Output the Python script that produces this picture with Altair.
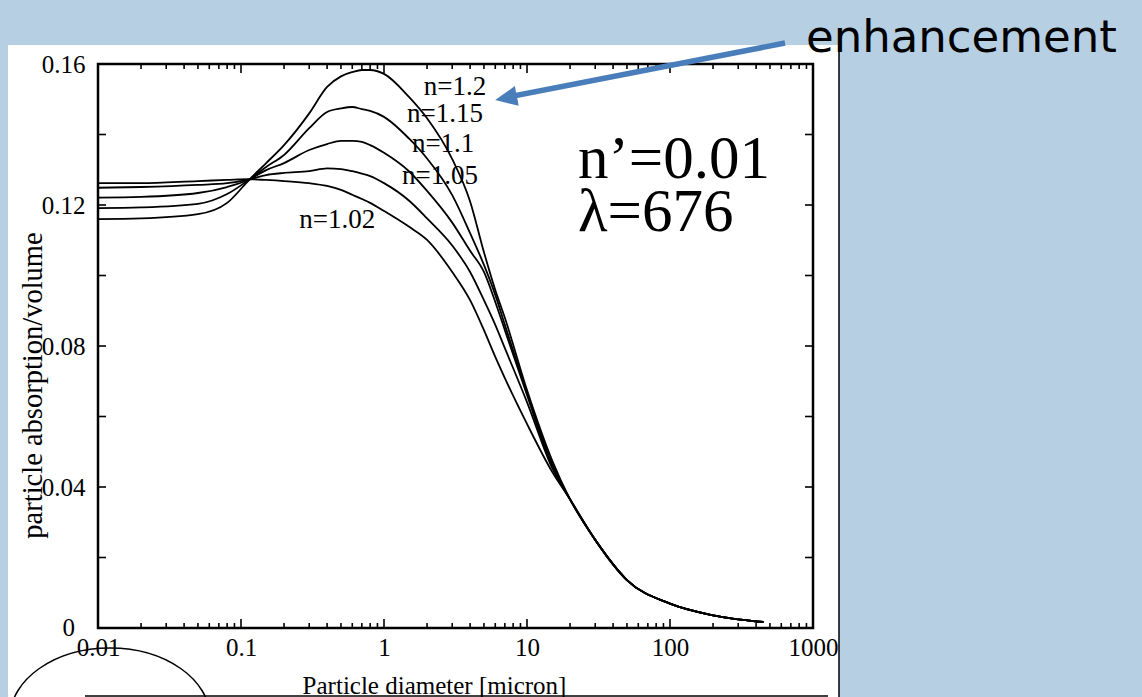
import altair as alt
import pandas as pd

SERIF = "Liberation Serif"

# particle diameter grid [micron]
diam = [0.01, 0.02, 0.05, 0.08, 0.115, 0.15, 0.2, 0.3, 0.4, 0.5, 0.6, 0.7, 0.8, 1, 1.5, 2,
        3, 4, 5, 6, 7, 10, 15, 20, 30, 50, 100, 200, 450]
tail = [0.0365, 0.0250, 0.0136, 0.0069, 0.0036, 0.0017]

n102 = [0.1262, 0.1262, 0.1268, 0.1271, 0.1273, 0.1271, 0.1268, 0.1262, 0.1254, 0.1243, 0.1229,
        0.1217, 0.1206, 0.1183, 0.1138, 0.1101, 0.1010, 0.0930, 0.0845, 0.0769, 0.0709, 0.0579,
        0.0443] + tail
n105 = [0.1249, 0.1251, 0.1257, 0.1262, 0.1273, 0.1285, 0.1291, 0.1296, 0.1304, 0.1302, 0.1296,
        0.1289, 0.1282, 0.1262, 0.1212, 0.1162, 0.1085, 0.1010, 0.0930, 0.0860, 0.0794, 0.0641,
        0.0454] + tail
n110 = [0.1221, 0.1223, 0.1234, 0.1251, 0.1273, 0.1299, 0.1319, 0.1356, 0.1373, 0.1382, 0.1382,
        0.1379, 0.1370, 0.1348, 0.1295, 0.1240, 0.1150, 0.1070, 0.1010, 0.0925, 0.0845, 0.0661,
        0.0457] + tail
n115 = [0.1191, 0.1193, 0.1203, 0.1231, 0.1273, 0.1308, 0.1342, 0.1418, 0.1464, 0.1474, 0.1478,
        0.1472, 0.1467, 0.1450, 0.1388, 0.1332, 0.1228, 0.1120, 0.1030, 0.0945, 0.0860, 0.0667,
        0.0465] + tail
n120 = [0.1160, 0.1162, 0.1174, 0.1206, 0.1273, 0.1319, 0.1370, 0.1460, 0.1535, 0.1565, 0.1577,
        0.1583, 0.1583, 0.1572, 0.1506, 0.1446, 0.1330, 0.1210, 0.1066, 0.0959, 0.0880, 0.0675,
        0.0475] + tail

series = {"n=1.02": n102, "n=1.05": n105, "n=1.1": n110, "n=1.15": n115, "n=1.2": n120}

# curve labels
label_text = ["n=1.2", "n=1.15", "n=1.1", "n=1.05", "n=1.02"]
label_d = [1.90, 1.447, 1.567, 1.335, 0.2557]
label_v = [0.1512, 0.1436, 0.1350, 0.1260, 0.1135]

# axis ticks / labels
x_label_vals = [0.01, 0.1, 1, 10, 100, 1000]
x_major = [0.1, 1, 10, 100]
x_minor = [m * 10.0 ** e for e in range(-2, 3) for m in range(2, 10)]
y_label_vals = [0.04, 0.08, 0.12, 0.16]
y_zero_label = ["0"]
y_ticks = [0.02, 0.04, 0.06, 0.08, 0.10, 0.12, 0.14]

rows = []
for name, vals in series.items():
    for d, v in zip(diam, vals):
        rows.append({"n": name, "d": d, "v": v})
df = pd.DataFrame(rows)

W, H = 715, 564

xs = alt.Scale(type="log", domain=[0.01, 1000])
ys = alt.Scale(domain=[0, 0.16])
xaxis = alt.Axis(values=x_label_vals, format="~g", labelFont=SERIF, labelFontSize=25,
                 labelColor="black", labelPadding=7, labelFlush=False, labelOverlap=False,
                 ticks=False, domain=False, grid=False, zindex=2,
                 title="Particle diameter [micron]", titleFont=SERIF, titleFontSize=25,
                 titleFontWeight="normal", titleColor="black", titleX=336, titleY=57,
                 titleAlign="center", titleBaseline="middle")
yaxis = alt.Axis(values=y_label_vals, format=".2f",
                 labelFont=SERIF, labelFontSize=25, labelColor="black", labelPadding=13,
                 labelFlush=False, labelOverlap=False,
                 ticks=False, domain=False, grid=False, zindex=2,
                 title="particle absorption/volume", titleFont=SERIF, titleFontSize=28.5,
                 titleFontWeight="normal", titleColor="black", titleX=-66, titleY=321,
                 titleAngle=270, titleAlign="center", titleBaseline="middle")
X = alt.X("d:Q", scale=xs, axis=xaxis)
Y = alt.Y("v:Q", scale=ys, axis=yaxis)

one = alt.Data(values=[{}])

bg = alt.Chart(one).mark_rect(fill="white").encode(
    x=alt.value(-90), x2=alt.value(741), y=alt.value(-19), y2=alt.value(640))

right_edge = alt.Chart(one).mark_rule(color="black", strokeWidth=1.5).encode(
    x=alt.value(741), y=alt.value(-19), y2=alt.value(640))
bottom_rule = alt.Chart(one).mark_rule(color="black", strokeWidth=1.5).encode(
    x=alt.value(-13), x2=alt.value(730), y=alt.value(632))
ellipse = alt.Chart(one).mark_point(
    shape="M -1 0 A 1 0.7 0 1 1 1 0 A 1 0.7 0 1 1 -1 0", size=40000, filled=False,
    stroke="black", strokeWidth=1.5, opacity=1).encode(x=alt.value(12), y=alt.value(654))

frame = alt.Chart(one).mark_rect(filled=False, stroke="black", strokeWidth=2.5).encode(
    x=alt.value(0), x2=alt.value(W), y=alt.value(0), y2=alt.value(H))

xmaj = pd.DataFrame({"d": x_major})
xmin = pd.DataFrame({"d": x_minor})
ytk = pd.DataFrame({"v": y_ticks})

tick_style = dict(color="black", strokeWidth=1.6)
ticks = [
    alt.Chart(xmaj).mark_rule(**tick_style).encode(x=X, y=alt.value(H), y2=alt.value(H - 9)),
    alt.Chart(xmaj).mark_rule(**tick_style).encode(x=X, y=alt.value(0), y2=alt.value(9)),
    alt.Chart(xmin).mark_rule(**tick_style).encode(x=X, y=alt.value(H), y2=alt.value(H - 5)),
    alt.Chart(xmin).mark_rule(**tick_style).encode(x=X, y=alt.value(0), y2=alt.value(5)),
    alt.Chart(ytk).mark_rule(**tick_style).encode(y=Y, x=alt.value(0), x2=alt.value(8)),
    alt.Chart(ytk).mark_rule(**tick_style).encode(y=Y, x=alt.value(W), x2=alt.value(W - 8)),
]

zero_df = pd.DataFrame({"t": y_zero_label, "v": [0.0]})
zero_label = alt.Chart(zero_df).mark_text(
    align="right", baseline="middle", font=SERIF, fontSize=25, color="black").encode(
    y=Y, x=alt.value(-23), text="t:N")

lines = alt.Chart(df).mark_line(color="black", strokeWidth=1.8, interpolate="monotone").encode(
    x=X, y=Y, detail="n:N")

labels_df = pd.DataFrame({"t": label_text, "d": label_d, "v": label_v})
labels = alt.Chart(labels_df).mark_text(
    align="left", baseline="alphabetic", font=SERIF, fontSize=27, color="black").encode(
    x=X, y=Y, text="t:N")

big1 = alt.Chart(one).mark_text(align="left", baseline="alphabetic", font=SERIF, fontSize=61,
                                color="black", text="n\u2019=0.01").encode(
    x=alt.value(480), y=alt.value(114))
big2 = alt.Chart(one).mark_text(align="left", baseline="alphabetic", font=SERIF, fontSize=61,
                                color="black", text="\u03bb=676").encode(
    x=alt.value(480), y=alt.value(167))

ARROW = "#4a7ebb"
shaft = alt.Chart(one).mark_rule(color=ARROW, strokeWidth=5.5).encode(
    x=alt.value(687), y=alt.value(-21), x2=alt.value(410), y2=alt.value(33))
head = alt.Chart(one).mark_point(shape="M 1 0 L -1 -0.91 L -1 0.91 Z", size=484, filled=True,
                                 color=ARROW, opacity=1, angle=168.9).encode(
    x=alt.value(408), y=alt.value(34))
enh = alt.Chart(one).mark_text(align="left", baseline="alphabetic", font="DejaVu Sans",
                               fontSize=45, color="black", text="enhancement").encode(
    x=alt.value(708), y=alt.value(-12))

chart = alt.layer(bg, ellipse, bottom_rule, right_edge, *ticks, zero_label, lines, frame, labels,
                  big1, big2, shaft, head, enh).properties(
    width=W, height=H,
    padding={"left": 98, "top": 64, "right": 329, "bottom": 69},
    autosize=alt.AutoSizeParams(type="none"),
    background="#b6cfe2",
).configure_view(stroke="transparent")

chart.save("out.html", embed_options={"renderer": "svg", "actions": False})
